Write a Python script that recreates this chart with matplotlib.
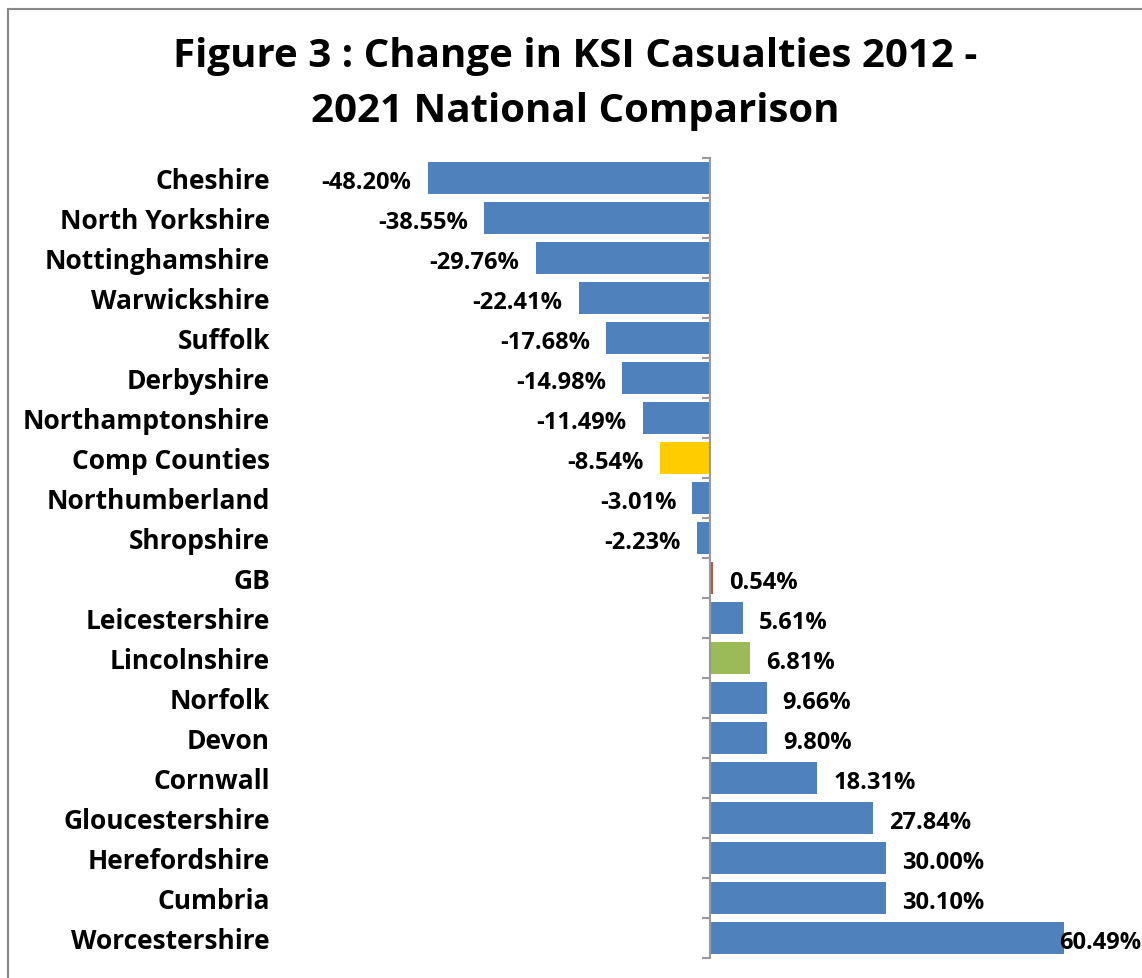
import matplotlib
matplotlib.use("Agg")
import matplotlib.pyplot as plt
from matplotlib.lines import Line2D

categories = ["Cheshire", "North Yorkshire", "Nottinghamshire", "Warwickshire", "Suffolk",
              "Derbyshire", "Northamptonshire", "Comp Counties", "Northumberland", "Shropshire",
              "GB", "Leicestershire", "Lincolnshire", "Norfolk", "Devon", "Cornwall",
              "Gloucestershire", "Herefordshire", "Cumbria", "Worcestershire"]
values = [-48.20, -38.55, -29.76, -22.41, -17.68, -14.98, -11.49, -8.54, -3.01, -2.23,
          0.54, 5.61, 6.81, 9.66, 9.80, 18.31, 27.84, 30.00, 30.10, 60.49]
highlight = {"Comp Counties": "#FFCC00", "GB": "#C0504D", "Lincolnshire": "#9BBB59"}
base_color = "#4F81BD"
title = "Figure 3 : Change in KSI Casualties 2012 -\n2021 National Comparison"

FONT = "Open Sans"
W, H, DPI = 1142, 979, 100
fig = plt.figure(figsize=(W / DPI, H / DPI), dpi=DPI)

px_per_unit = 5.86
zero_px = 710
ax_left_px, ax_right_px = 300, 1141
ax_top_px, ax_bot_px = 159, 959
ax = fig.add_axes([ax_left_px / W, (H - ax_bot_px) / H,
                   (ax_right_px - ax_left_px) / W, (ax_bot_px - ax_top_px) / H])
ax.set_xlim(-(zero_px - ax_left_px) / px_per_unit, (ax_right_px - zero_px) / px_per_unit)
ax.set_ylim(len(categories) - 0.5, -0.5)

pos = list(range(len(categories)))
colors = [highlight.get(c, base_color) for c in categories]
ax.barh(pos, values, height=0.82, color=colors, edgecolor="none", zorder=2)

for spine in ["top", "right", "bottom"]:
    ax.spines[spine].set_visible(False)
ax.spines["left"].set_position(("data", 0))
ax.spines["left"].set_color("#999999")
ax.spines["left"].set_linewidth(1.5)
ax.spines["left"].set_zorder(3)
ax.set_xticks([])

pad_pt = (zero_px - 270) * 72 / DPI
ax.set_yticks(pos)
ax.set_yticklabels(categories, fontsize=19, fontweight="bold", family=FONT)
ax.tick_params(axis="y", which="major", length=0, pad=pad_pt)
ax.set_yticks([p - 0.5 for p in pos] + [len(pos) - 0.5], minor=True)
ax.tick_params(axis="y", which="minor", length=8 * 72 / DPI, width=1.5, color="#999999", direction="out")

offset_pt = 16 * 72 / DPI
down_pt = -4 * 72 / DPI
xmax = ax.get_xlim()[1]
for p, v in zip(pos, values):
    label = f"{v:.2f}%"
    if v < 0:
        ax.annotate(label, (v, p), xytext=(-offset_pt, down_pt), textcoords="offset points",
                    ha="right", va="center", fontsize=17, fontweight="bold", family=FONT)
    elif v * px_per_unit + zero_px + 17 + 85 > ax_right_px:
        ax.annotate(label, (xmax, p), xytext=(0, down_pt), textcoords="offset points",
                    ha="right", va="center", fontsize=17,
                    fontweight="bold", family=FONT, annotation_clip=False)
    else:
        ax.annotate(label, (v, p), xytext=(offset_pt, down_pt), textcoords="offset points",
                    ha="left", va="center", fontsize=17, fontweight="bold", family=FONT)

fig.text(575 / W, 1 - 84 / H, title, ha="center", va="center", fontsize=29,
         fontweight="bold", family=FONT, linespacing=1.55)

# chart border
fig.add_artist(Line2D([8 / W, 8 / W], [0, 1 - 10 / H], color="#888888", lw=1.5))
fig.add_artist(Line2D([8 / W, 1], [1 - 10 / H, 1 - 10 / H], color="#888888", lw=1.5))

fig.savefig("out.png", dpi=DPI)
